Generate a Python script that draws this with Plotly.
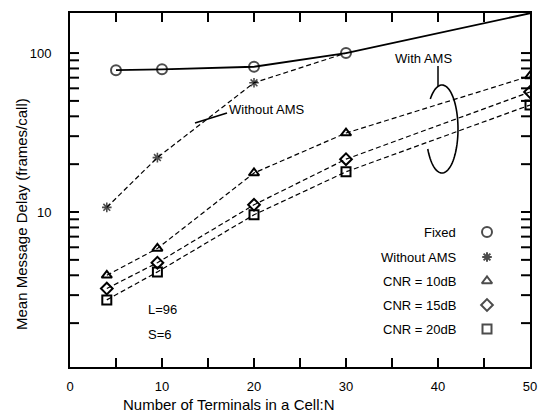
import math
import numpy as np
import plotly.graph_objects as go

# ---------------- data ----------------
fixed_n = [5, 10, 20, 30, 50]
fixed_delay = [78, 79, 82, 100, 178]

without_ams_n = [4, 9.5, 20, 30]
without_ams_delay = [10.7, 22, 65, 100]

cnr_n = [4, 9.5, 20, 30, 50]
cnr10_delay = [4.0, 5.9, 17.6, 31.4, 71.7]
cnr15_delay = [3.3, 4.8, 11.1, 21.5, 56.9]
cnr20_delay = [2.8, 4.2, 9.6, 17.9, 47.1]

legend_labels = ["Fixed", "Without AMS", "CNR = 10dB", "CNR = 15dB", "CNR = 20dB"]
legend_symbols = ["circle-open", "asterisk-open", "triangle-up-open", "diamond-open", "square-open"]

x_major_ticks = [0, 10, 20, 30, 40, 50]
x_all_ticks = [5, 10, 15, 20, 25, 30, 35, 40, 45]
y_major_ticks = [10, 100]
y_all_ticks = [m * 10 ** e for e in range(0, 3) for m in range(1, 10) if 1.1 < m * 10 ** e <= 100]

# ---------------- layout geometry ----------------
W, H = 541, 412
L, R, T, B = 70, 530, 13, 367
X_RANGE = [0, 50]
Y_LOG_RANGE = [0.025, 2.252]
TICK_LEN = 9


def px(x):
    return (x - L) / (R - L)


def py(y):
    return (B - y) / (B - T)


def data_x(pix):
    return X_RANGE[0] + px(pix) * (X_RANGE[1] - X_RANGE[0])


def data_y(pix):
    return 10 ** (Y_LOG_RANGE[0] + py(pix) * (Y_LOG_RANGE[1] - Y_LOG_RANGE[0]))


def yfrac(v):
    return (math.log10(v) - Y_LOG_RANGE[0]) / (Y_LOG_RANGE[1] - Y_LOG_RANGE[0])


FONT = "Liberation Sans, Arial, sans-serif"
DASH = "5px,3px"
TXT = dict(size=13, family=FONT, color="black")

fig = go.Figure()

fig.add_trace(go.Scatter(
    x=fixed_n, y=fixed_delay, mode="lines+markers",
    line=dict(color="black", width=1.8),
    marker=dict(symbol="circle-open", size=[10, 10, 10, 10, 0], color="black",
                line=dict(width=2, color="black")),
    showlegend=False))

fig.add_trace(go.Scatter(
    x=without_ams_n, y=without_ams_delay, mode="lines+markers",
    line=dict(color="black", width=1.2, dash=DASH),
    marker=dict(symbol="asterisk-open", size=[8, 8, 8, 0], color="black",
                line=dict(width=1.6, color="black")),
    showlegend=False))

for ys, sym in [(cnr10_delay, "triangle-up-open"), (cnr15_delay, "diamond-open"),
                (cnr20_delay, "square-open")]:
    fig.add_trace(go.Scatter(
        x=cnr_n, y=ys, mode="lines+markers",
        line=dict(color="black", width=1.2, dash=DASH),
        marker=dict(symbol=sym, size=9, color="black", line=dict(width=2, color="black")),
        showlegend=False))

# in-plot key (text left, symbol right)
key_pix_y = [232, 257, 281, 305, 329]
fig.add_trace(go.Scatter(
    x=[data_x(487)] * len(legend_labels), y=[data_y(v) for v in key_pix_y], mode="markers",
    marker=dict(symbol=legend_symbols, size=[10, 8, 9, 9, 9], color="black",
                line=dict(width=2, color="black")),
    showlegend=False, hoverinfo="skip"))
for lab, yy in zip(legend_labels, key_pix_y):
    fig.add_annotation(x=px(458), y=py(yy), xref="paper", yref="paper", text=lab,
                       showarrow=False, xanchor="right", yanchor="middle", font=TXT)

# text annotations
fig.add_annotation(x=px(146), y=py(309), xref="paper", yref="paper", text="L=96",
                   showarrow=False, xanchor="left", yanchor="middle", font=TXT)
fig.add_annotation(x=px(146), y=py(334), xref="paper", yref="paper", text="S=6",
                   showarrow=False, xanchor="left", yanchor="middle", font=TXT)
fig.add_annotation(x=px(227), y=py(110), xref="paper", yref="paper", text="Without AMS",
                   showarrow=False, xanchor="left", yanchor="middle", font=TXT)
fig.add_annotation(x=px(423), y=py(58), xref="paper", yref="paper", text="With AMS",
                   showarrow=False, xanchor="center", yanchor="middle", font=TXT)

# axis titles (placed as in the reference)
fig.add_annotation(x=px(228), y=py(404), xref="paper", yref="paper",
                   text="Number of Terminals in a Cell:N", showarrow=False,
                   xanchor="center", yanchor="middle",
                   font=dict(size=15, family=FONT, color="black"))
fig.add_annotation(x=px(21), y=py(214), xref="paper", yref="paper",
                   text="Mean Message Delay (frames/call)", showarrow=False, textangle=-90,
                   xanchor="center", yanchor="middle",
                   font=dict(size=15, family=FONT, color="black"))

# pointer lines
fig.add_shape(type="line", xref="paper", yref="paper",
              x0=px(195), y0=py(123), x1=px(227), y1=py(113),
              line=dict(color="black", width=1.8))
fig.add_shape(type="line", xref="paper", yref="paper",
              x0=px(438), y0=py(66), x1=px(438), y1=py(86),
              line=dict(color="black", width=1.5))

# open ellipse around the "With AMS" curves
cx, cy, rx, ry = 442, 129, 16, 44
th = np.radians(np.linspace(-153, 137, 80))
ex = cx + rx * np.cos(th)
ey = cy - ry * np.sin(th)
path = "M " + " L ".join(f"{px(a):.5f},{py(b):.5f}" for a, b in zip(ex, ey))
fig.add_shape(type="path", xref="paper", yref="paper", path=path,
              line=dict(color="black", width=1.6))

# inside ticks on all four sides (drawn as shapes at the tick values)
tx = TICK_LEN / (R - L)
ty = TICK_LEN / (B - T)
tick_line = dict(color="black", width=2)
for v in x_all_ticks:
    fig.add_shape(type="line", xref="x", yref="paper", x0=v, x1=v, y0=0, y1=ty, line=tick_line)
    fig.add_shape(type="line", xref="x", yref="paper", x0=v, x1=v, y0=1, y1=1 - ty, line=tick_line)
for v in y_all_ticks:
    f = yfrac(v)
    fig.add_shape(type="line", xref="paper", yref="paper", x0=0, x1=tx, y0=f, y1=f, line=tick_line)
    fig.add_shape(type="line", xref="paper", yref="paper", x0=1, x1=1 - tx, y0=f, y1=f, line=tick_line)

axis_common = dict(showline=True, linecolor="black", linewidth=2, mirror=True,
                   ticks="", showgrid=False, zeroline=False, automargin=False,
                   tickfont=dict(size=13, family=FONT, color="black"))

fig.update_layout(
    width=W, height=H,
    margin=dict(l=L, r=W - R, t=T, b=H - B),
    paper_bgcolor="white", plot_bgcolor="white",
    xaxis=dict(range=X_RANGE, tickmode="array", tickvals=x_major_ticks,
               ticklabelstandoff=6, **axis_common),
    yaxis=dict(type="log", range=Y_LOG_RANGE, tickmode="array", tickvals=y_major_ticks,
               ticklabelstandoff=14, **axis_common),
    font=dict(family=FONT, color="black"),
)

fig.write_html("out.html", config={"displayModeBar": False},
               post_script="document.body.style.margin='0';document.body.style.overflow='hidden';")
